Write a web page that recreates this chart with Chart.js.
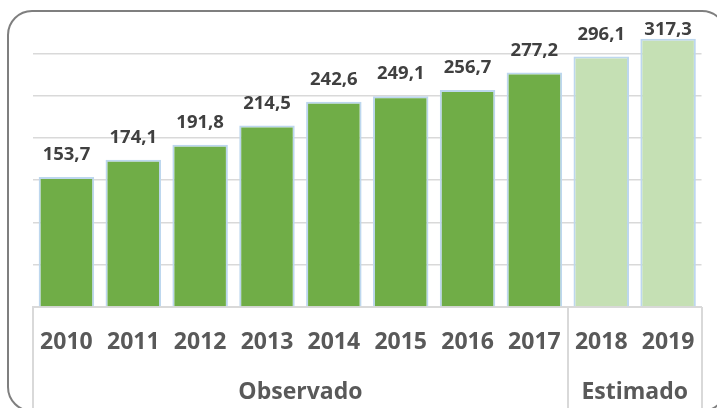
<!DOCTYPE html>
<html>
<head>
<meta charset="utf-8">
<script src="https://cdn.jsdelivr.net/npm/chart.js@4/dist/chart.umd.min.js"></script>
<style>
  html, body { margin: 0; padding: 0; background: #fff; }
  #wrap { position: relative; width: 717px; height: 408px; overflow: hidden; }
  #frame { position: absolute; left: 7px; top: 10px; width: 720px; height: 402px;
           border: 2px solid #7f7f7f; border-radius: 25px; box-sizing: border-box; }
  canvas { position: absolute; left: 0; top: 0; }
</style>
</head>
<body>
<div id="wrap">
  <div id="frame"></div>
  <canvas id="c" width="717" height="408"></canvas>
</div>
<script>
// ---- data ----
const years  = ['2010','2011','2012','2013','2014','2015','2016','2017','2018','2019'];
const values = [153.7, 174.1, 191.8, 214.5, 242.6, 249.1, 256.7, 277.2, 296.1, 317.3];
const groupOf = ['Observado','Observado','Observado','Observado','Observado','Observado','Observado','Observado','Estimado','Estimado'];
const groups = ['Observado','Estimado'];

// ---- styles ----
const groupColors = { 'Observado': '#70AD47', 'Estimado': '#C5E0B4' };
const FONT = '"Open Sans", "Noto Sans", sans-serif';
const gridColor = '#D9D9D9';

const dataLabels = {
  id: 'dataLabels',
  afterDatasetsDraw(chart) {
    const ctx = chart.ctx;
    const meta = chart.getDatasetMeta(0);
    ctx.save();
    ctx.font = 'bold 18.5px ' + FONT;
    ctx.fillStyle = '#404040';
    ctx.textAlign = 'center';
    ctx.textBaseline = 'alphabetic';
    meta.data.forEach((bar, i) => {
      const v = chart.data.datasets[0].data[i];
      const txt = v.toFixed(1).replace('.', ',');
      let y = bar.y - 17;
      const minY = chart.chartArea.top + 24;
      if (y < minY) y = minY;
      ctx.fillText(txt, bar.x, y);
    });
    ctx.restore();
  }
};

const groupAxis = {
  id: 'groupAxis',
  afterDraw(chart) {
    const ctx = chart.ctx;
    const xs = chart.scales.x;
    const n = years.length;
    const step = (xs.getPixelForValue(1) - xs.getPixelForValue(0));
    const yTop = chart.chartArea.bottom;
    const yBot = chart.height;
    ctx.save();
    ctx.strokeStyle = gridColor;
    ctx.lineWidth = 2;
    const bounds = [];
    let start = 0;
    for (let i = 1; i <= n; i++) {
      if (i === n || groupOf[i] !== groupOf[i - 1]) {
        bounds.push({ name: groupOf[start], s: start, e: i - 1 });
        start = i;
      }
    }
    const edgeXs = [xs.getPixelForValue(0) - step / 2];
    bounds.forEach(b => edgeXs.push(xs.getPixelForValue(b.e) + step / 2));
    edgeXs.forEach(x => {
      ctx.beginPath();
      ctx.moveTo(Math.round(x), yTop);
      ctx.lineTo(Math.round(x), yBot);
      ctx.stroke();
    });
    ctx.font = 'bold 23px ' + FONT;
    ctx.fillStyle = '#595959';
    ctx.textAlign = 'center';
    ctx.textBaseline = 'middle';
    bounds.forEach(b => {
      const cx = (xs.getPixelForValue(b.s) + xs.getPixelForValue(b.e)) / 2;
      ctx.fillText(b.name, cx, 392);
    });
    ctx.restore();
  }
};

new Chart(document.getElementById('c'), {
  type: 'bar',
  data: {
    labels: years,
    datasets: [{
      data: values,
      backgroundColor: groupOf.map(g => groupColors[g]),
      borderColor: '#BDD7EE',
      borderWidth: 2,
      barPercentage: 0.83,
      categoryPercentage: 1.0
    }]
  },
  options: {
    responsive: false,
    animation: false,
    devicePixelRatio: 1,
    layout: { padding: { left: 33, right: 12, top: 11, bottom: 0 } },
    plugins: { legend: { display: false }, tooltip: { enabled: false } },
    scales: {
      x: {
        grid: { display: false, drawTicks: false },
        border: { display: true, color: gridColor, width: 2 },
        ticks: { color: '#595959', font: { family: FONT, size: 23, weight: 'bold' }, padding: 22, maxRotation: 0, autoSkip: false },
        afterFit(axis) { axis.height = 101; }
      },
      y: {
        min: 0, max: 350,
        ticks: { display: false, stepSize: 50 },
        border: { display: false },
        grid: {
          drawTicks: false,
          lineWidth: 1.5,
          color: ctx => (ctx.tick && (ctx.tick.value === 350 || ctx.tick.value === 0)) ? 'rgba(0,0,0,0)' : gridColor
        },
        afterFit(axis) { axis.width = 0; }
      }
    }
  },
  plugins: [dataLabels, groupAxis]
});
</script>
</body>
</html>
